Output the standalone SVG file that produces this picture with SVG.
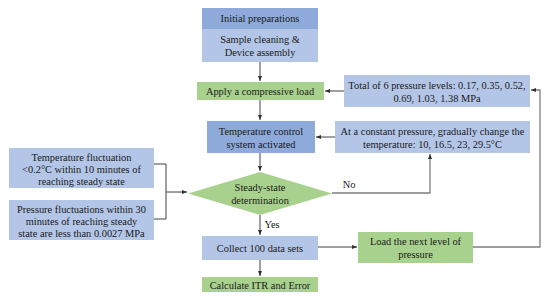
<svg xmlns="http://www.w3.org/2000/svg" width="550" height="299" viewBox="0 0 550 299">
<style>
text{font-family:"Liberation Serif","Times New Roman",serif;font-size:10.4px;fill:#1a1a1a;text-anchor:middle}
.dk{fill:#8eaadb}
.lt{fill:#b4c6e7}
.gr{fill:#a9d18e}
.c{fill:none;stroke:#404040;stroke-width:1}
.g{fill:none;stroke:#7f7f7f;stroke-width:1.3}
</style>
<defs>
<marker id="ah" markerWidth="6" markerHeight="6" refX="5" refY="3" orient="auto" markerUnits="userSpaceOnUse">
<path d="M0,1 L5,3 L0,5 z" fill="#303030"/>
</marker>
</defs>
<rect width="550" height="299" fill="#fff"/>
<g id="connectors">
<path class="c" d="M260,62 V81" marker-end="url(#ah)"/>
<path class="c" d="M344,91 H325" marker-end="url(#ah)"/>
<path class="c" d="M260,100 V120" marker-end="url(#ah)"/>
<path class="c" d="M335,137 H316" marker-end="url(#ah)"/>
<path class="c" d="M260,153 V171" marker-end="url(#ah)"/>
<path class="g" d="M332,193 H430 V154" marker-end="url(#ah)"/>
<path class="c" d="M154,164 H166 V219 H154 M166,192 H187" marker-end="url(#ah)"/>
<path class="c" d="M260,215 V235" marker-end="url(#ah)"/>
<path class="c" d="M318,247 H357" marker-end="url(#ah)"/>
<path class="c" d="M260,260 V276" marker-end="url(#ah)"/>
<path class="g" d="M473,247 H540 V90 H531" marker-end="url(#ah)"/>
<text x="349" y="188">No</text>
<text x="272" y="228">Yes</text>
</g>
<g id="initial">
<rect class="dk" x="202" y="8" width="116" height="21"/>
<text x="260" y="22">Initial preparations</text>
</g>
<g id="sample">
<rect class="lt" x="202" y="29" width="116" height="33"/>
<text x="260" y="43">Sample cleaning &amp;</text>
<text x="260" y="56">Device assembly</text>
</g>
<g id="apply">
<rect class="gr" x="197" y="82" width="127" height="18"/>
<text x="260" y="94.5">Apply a compressive load</text>
</g>
<g id="total">
<rect class="lt" x="344" y="75" width="186" height="32"/>
<text x="437" y="88.5">Total of 6 pressure levels: 0.17, 0.35, 0.52,</text>
<text x="437" y="101.5">0.69, 1.03, 1.38 MPa</text>
</g>
<g id="tempctrl">
<rect class="dk" x="207" y="121" width="108" height="32"/>
<text x="261" y="134.5">Temperature control</text>
<text x="261" y="147.5">system activated</text>
</g>
<g id="constant">
<rect class="lt" x="335" y="121" width="195" height="32"/>
<text x="432.5" y="134.5">At a constant pressure, gradually change the</text>
<text x="432.5" y="147.5">temperature: 10, 16.5, 23, 29.5°C</text>
</g>
<g id="steady">
<polygon class="gr" points="260,172 332,193.5 260,215 188,193.5"/>
<text x="260" y="191">Steady-state</text>
<text x="260" y="203.5">determination</text>
</g>
<g id="tempfluct">
<rect class="lt" x="9" y="148" width="145" height="40"/>
<text x="81.5" y="160.5">Temperature fluctuation</text>
<text x="81.5" y="172.5">&lt;0.2°C within 10 minutes of</text>
<text x="81.5" y="184.5">reaching steady state</text>
</g>
<g id="pressfluct">
<rect class="lt" x="9" y="200" width="145" height="40"/>
<text x="81.5" y="212.5">Pressure fluctuations within 30</text>
<text x="81.5" y="224.5">minutes of reaching steady</text>
<text x="81.5" y="236.5">state are less than 0.0027 MPa</text>
</g>
<g id="collect">
<rect class="lt" x="202" y="236" width="116" height="24"/>
<text x="260" y="251.5">Collect 100 data sets</text>
</g>
<g id="load">
<rect class="gr" x="358" y="232" width="115" height="31"/>
<text x="415.5" y="245">Load the next level of</text>
<text x="415.5" y="258">pressure</text>
</g>
<g id="calc">
<rect class="gr" x="202" y="277" width="116" height="15"/>
<text x="260" y="288.5">Calculate ITR and Error</text>
</g>
</svg>
